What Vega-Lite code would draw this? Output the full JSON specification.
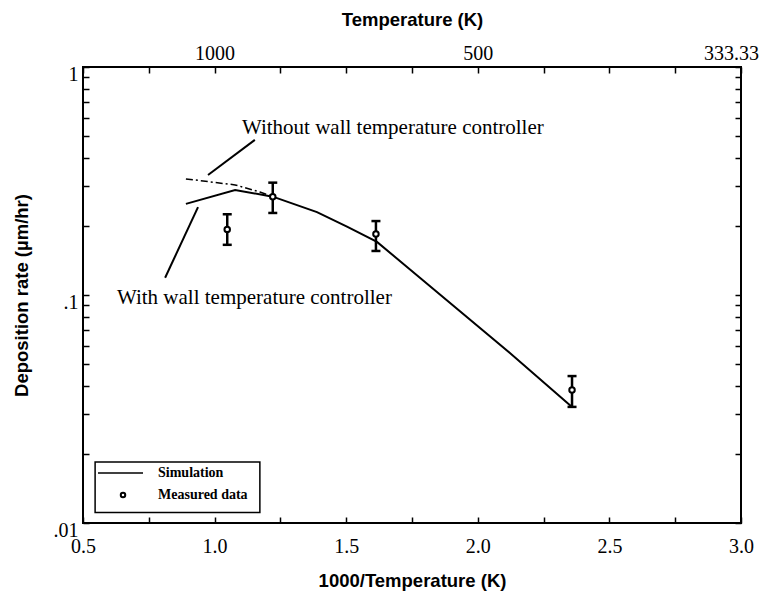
{
  "$schema": "https://vega.github.io/schema/vega-lite/v6.json",
  "width": 658,
  "height": 456,
  "autosize": "none",
  "padding": {"left": 83, "top": 67, "right": 22, "bottom": 79},
  "background": "white",
  "config": {
    "view": {"stroke": "black", "strokeWidth": 2},
    "axis": {
      "grid": false,
      "domain": false,
      "tickColor": "black",
      "tickSize": -6,
      "tickWidth": 1.5,
      "labelColor": "black",
      "labelFont": "Liberation Serif",
      "labelFontSize": 20,
      "labelFlush": false,
      "labelOverlap": false,
      "labelBound": false,
      "titleFont": "Liberation Sans",
      "titleFontSize": 18.5,
      "titleFontWeight": "bold",
      "titleColor": "black"
    }
  },
  "datasets": {
    "simulation": [
      {"x": 0.891, "y": 0.251},
      {"x": 1.078, "y": 0.289},
      {"x": 1.221, "y": 0.270},
      {"x": 1.389, "y": 0.231},
      {"x": 1.503, "y": 0.1994},
      {"x": 1.617, "y": 0.171},
      {"x": 1.780, "y": 0.119},
      {"x": 2.122, "y": 0.0557},
      {"x": 2.358, "y": 0.0323}
    ],
    "noController": [
      {"x": 0.891, "y": 0.323},
      {"x": 1.078, "y": 0.304},
      {"x": 1.172, "y": 0.283},
      {"x": 1.221, "y": 0.270}
    ],
    "measured": [
      {"x": 1.048, "y": 0.194, "lo": 0.166, "hi": 0.226},
      {"x": 1.221, "y": 0.270, "lo": 0.229, "hi": 0.311},
      {"x": 1.613, "y": 0.185, "lo": 0.156, "hi": 0.211},
      {"x": 2.358, "y": 0.0383, "lo": 0.0323, "hi": 0.0441}
    ],
    "leaders": [
      {"x": 0.975, "y": 0.336, "x2": 1.153, "y2": 0.479},
      {"x": 0.937, "y": 0.243, "x2": 0.812, "y2": 0.119}
    ],
    "notes": [
      {"x": 1.104, "y": 0.540, "text": "Without wall temperature controller"},
      {"x": 0.629, "y": 0.097, "text": "With wall temperature controller"}
    ],
    "legendBox": [{"x": 0.546, "x2": 1.172, "y": 0.0185, "y2": 0.01112}],
    "legendLine": [{"x": 0.557, "x2": 0.728, "y": 0.01656}],
    "legendPoint": [{"x": 0.652, "y": 0.01327}],
    "legendText": [
      {"x": 0.785, "y": 0.01656, "text": "Simulation"},
      {"x": 0.785, "y": 0.01327, "text": "Measured data"}
    ]
  },
  "layer": [
    {
      "data": {"name": "simulation"},
      "mark": {"type": "line", "color": "black", "strokeWidth": 2},
      "encoding": {
        "x": {
          "field": "x", "type": "quantitative",
          "scale": {"domain": [0.5, 3], "nice": false, "zero": false},
          "axis": {
            "orient": "bottom",
            "title": "1000/Temperature (K)",
            "values": [0.5, 0.75, 1, 1.25, 1.5, 1.75, 2, 2.25, 2.5, 2.75, 3],
            "labelExpr": "(datum.value * 2) % 1 == 0 ? format(datum.value, '.1f') : ''",
            "labelPadding": 19,
            "titlePadding": 15
          }
        },
        "y": {
          "field": "y", "type": "quantitative",
          "scale": {"type": "log", "domain": [0.01, 1], "nice": false},
          "axis": {
            "orient": "left",
            "title": "Deposition rate (µm/hr)",
            "values": [0.01, 0.02, 0.03, 0.04, 0.05, 0.06, 0.07, 0.08, 0.09, 0.1, 0.2, 0.3, 0.4, 0.5, 0.6, 0.7, 0.8, 0.9, 1],
            "labelExpr": "datum.value == 1 ? '1' : datum.value == 0.1 ? '.1' : datum.value == 0.01 ? '.01' : ''",
            "labelPadding": 11,
            "labelOffset": 7,
            "titlePadding": 22
          }
        }
      }
    },
    {
      "data": {"name": "noController"},
      "mark": {"type": "line", "color": "black", "strokeWidth": 1.5, "strokeDash": [7, 3, 2, 3]},
      "encoding": {
        "x": {
          "field": "x", "type": "quantitative",
          "scale": {"domain": [0.5, 3], "nice": false, "zero": false},
          "axis": {
            "orient": "top",
            "title": "Temperature (K)",
            "values": [0.5, 0.75, 1, 1.25, 1.5, 1.75, 2, 2.25, 2.5, 2.75, 3],
            "labelExpr": "datum.value == 1 ? '1000' : datum.value == 2 ? '500' : datum.value == 3 ? '333.33' : ''",
            "labelOffset": {"condition": {"test": "datum.value == 3", "value": -10}, "value": 0},
            "labelPadding": 10,
            "titlePadding": 14
          }
        },
        "y": {
          "field": "y", "type": "quantitative",
          "scale": {"type": "log", "domain": [0.01, 1], "nice": false},
          "axis": {
            "orient": "right",
            "title": null,
            "labels": false,
            "values": [0.01, 0.02, 0.03, 0.04, 0.05, 0.06, 0.07, 0.08, 0.09, 0.1, 0.2, 0.3, 0.4, 0.5, 0.6, 0.7, 0.8, 0.9, 1]
          }
        }
      }
    },
    {
      "data": {"name": "leaders"},
      "mark": {"type": "rule", "color": "black", "strokeWidth": 2},
      "encoding": {
        "x": {"field": "x", "type": "quantitative", "scale": {"domain": [0.5, 3], "nice": false, "zero": false}, "axis": null},
        "y": {"field": "y", "type": "quantitative", "scale": {"type": "log", "domain": [0.01, 1], "nice": false}, "axis": null},
        "x2": {"field": "x2"},
        "y2": {"field": "y2"}
      }
    },
    {
      "data": {"name": "measured"},
      "mark": {"type": "rule", "color": "black", "strokeWidth": 2.5},
      "encoding": {
        "x": {"field": "x", "type": "quantitative", "scale": {"domain": [0.5, 3], "nice": false, "zero": false}, "axis": null},
        "y": {"field": "lo", "type": "quantitative", "scale": {"type": "log", "domain": [0.01, 1], "nice": false}, "axis": null},
        "y2": {"field": "hi"}
      }
    },
    {
      "data": {"name": "measured"},
      "mark": {"type": "tick", "orient": "horizontal", "color": "black", "size": 9, "thickness": 2.5, "opacity": 1},
      "encoding": {
        "x": {"field": "x", "type": "quantitative", "scale": {"domain": [0.5, 3], "nice": false, "zero": false}, "axis": null},
        "y": {"field": "hi", "type": "quantitative", "scale": {"type": "log", "domain": [0.01, 1], "nice": false}, "axis": null}
      }
    },
    {
      "data": {"name": "measured"},
      "mark": {"type": "tick", "orient": "horizontal", "color": "black", "size": 9, "thickness": 2.5, "opacity": 1},
      "encoding": {
        "x": {"field": "x", "type": "quantitative", "scale": {"domain": [0.5, 3], "nice": false, "zero": false}, "axis": null},
        "y": {"field": "lo", "type": "quantitative", "scale": {"type": "log", "domain": [0.01, 1], "nice": false}, "axis": null}
      }
    },
    {
      "data": {"name": "measured"},
      "mark": {"type": "point", "filled": true, "fill": "white", "stroke": "black", "strokeWidth": 2, "size": 30, "opacity": 1},
      "encoding": {
        "x": {"field": "x", "type": "quantitative", "scale": {"domain": [0.5, 3], "nice": false, "zero": false}, "axis": null},
        "y": {"field": "y", "type": "quantitative", "scale": {"type": "log", "domain": [0.01, 1], "nice": false}, "axis": null}
      }
    },
    {
      "data": {"name": "notes"},
      "mark": {"type": "text", "align": "left", "baseline": "middle", "font": "Liberation Serif", "fontSize": 21, "color": "black"},
      "encoding": {
        "x": {"field": "x", "type": "quantitative", "scale": {"domain": [0.5, 3], "nice": false, "zero": false}, "axis": null},
        "y": {"field": "y", "type": "quantitative", "scale": {"type": "log", "domain": [0.01, 1], "nice": false}, "axis": null},
        "text": {"field": "text"}
      }
    },
    {
      "data": {"name": "legendBox"},
      "mark": {"type": "rect", "fill": "white", "stroke": "black", "strokeWidth": 1.5},
      "encoding": {
        "x": {"field": "x", "type": "quantitative", "scale": {"domain": [0.5, 3], "nice": false, "zero": false}, "axis": null},
        "x2": {"field": "x2"},
        "y": {"field": "y", "type": "quantitative", "scale": {"type": "log", "domain": [0.01, 1], "nice": false}, "axis": null},
        "y2": {"field": "y2"}
      }
    },
    {
      "data": {"name": "legendLine"},
      "mark": {"type": "rule", "color": "black", "strokeWidth": 1.5},
      "encoding": {
        "x": {"field": "x", "type": "quantitative", "scale": {"domain": [0.5, 3], "nice": false, "zero": false}, "axis": null},
        "x2": {"field": "x2"},
        "y": {"field": "y", "type": "quantitative", "scale": {"type": "log", "domain": [0.01, 1], "nice": false}, "axis": null}
      }
    },
    {
      "data": {"name": "legendPoint"},
      "mark": {"type": "point", "filled": true, "fill": "white", "stroke": "black", "strokeWidth": 2, "size": 20, "opacity": 1},
      "encoding": {
        "x": {"field": "x", "type": "quantitative", "scale": {"domain": [0.5, 3], "nice": false, "zero": false}, "axis": null},
        "y": {"field": "y", "type": "quantitative", "scale": {"type": "log", "domain": [0.01, 1], "nice": false}, "axis": null}
      }
    },
    {
      "data": {"name": "legendText"},
      "mark": {"type": "text", "align": "left", "baseline": "middle", "font": "Liberation Serif", "fontSize": 14, "fontWeight": "bold", "color": "black"},
      "encoding": {
        "x": {"field": "x", "type": "quantitative", "scale": {"domain": [0.5, 3], "nice": false, "zero": false}, "axis": null},
        "y": {"field": "y", "type": "quantitative", "scale": {"type": "log", "domain": [0.01, 1], "nice": false}, "axis": null},
        "text": {"field": "text"}
      }
    }
  ]
}
